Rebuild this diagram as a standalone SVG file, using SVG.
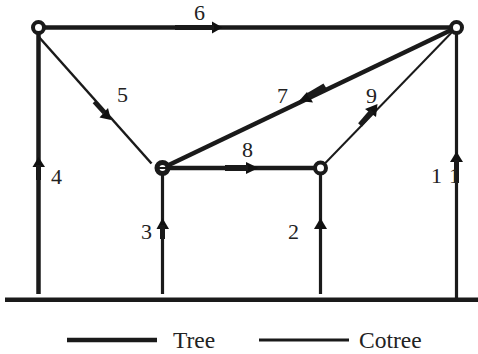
<svg xmlns="http://www.w3.org/2000/svg" width="478" height="354" viewBox="0 0 478 354">
<style>
.tree{stroke:#1a1a1a;stroke-width:4.5;fill:none}
.co{stroke:#1a1a1a;stroke-width:2.5;fill:none}
.thin{stroke:#1a1a1a;stroke-width:2;fill:none}
.mid{stroke:#1a1a1a;stroke-width:3.2;fill:none}
.ah{fill:#111;stroke:none}
.node{fill:#fff;stroke:#1a1a1a;stroke-width:4}
text{font-family:"Liberation Serif","Times New Roman",serif;font-size:22px;fill:#222}
.leg{font-size:23.5px}
</style>
<rect width="478" height="354" fill="#fff"/>
<g id="connectors">
<line class="tree" x1="5" y1="299.7" x2="478" y2="299.7"/>
<line class="tree" x1="38.5" y1="27.5" x2="38.5" y2="294"/>
<line class="mid" x1="162.5" y1="168" x2="162.5" y2="294"/>
<line class="mid" x1="320.5" y1="168" x2="320.5" y2="294"/>
<line class="mid" x1="456.5" y1="27.5" x2="456.5" y2="299"/>
<line class="tree" x1="38.5" y1="27.5" x2="456.5" y2="27.5"/>
<line class="co" x1="38" y1="36" x2="151.5" y2="163.5"/>
<line class="tree" x1="162.5" y1="168" x2="456.5" y2="27.5"/>
<line class="thin" x1="320.5" y1="168" x2="456.5" y2="27.5"/>
<line class="tree" x1="162.5" y1="168" x2="320.5" y2="168"/>
<path class="ah" d="M32.5 167L38.5 157L45 167Z"/>
<path class="ah" d="M156.5 229L162.5 218L169 229Z"/>
<path class="ah" d="M314 229L320.5 218L327 229Z"/>
<path class="ah" d="M450 162L456.5 151.5L463 162Z"/>
<path class="ah" d="M212 21.5L222.5 27.5L212 33.5Z"/>
<path class="ah" d="M246 162L258.5 168L246 174Z"/>
<path class="ah" d="M99.5 117.5L111 120L108 108Z"/>
<path class="ah" d="M313 102.5L299 101L307 92Z"/>
<path class="ah" d="M365 109L377.5 104L376 117Z"/>
<line class="tree" x1="175" y1="27.5" x2="214" y2="27.5" style="stroke-width:5"/>
<line class="tree" x1="225" y1="168" x2="248" y2="168" style="stroke-width:6"/>
<line class="tree" x1="162.5" y1="225" x2="162.5" y2="239" style="stroke-width:5"/>
<line class="tree" x1="38.5" y1="165" x2="38.5" y2="180" style="stroke-width:5"/>
<line class="tree" x1="456.5" y1="160" x2="456.5" y2="183" style="stroke-width:5"/>
<line class="tree" x1="94" y1="102" x2="104" y2="113" style="stroke-width:3.5"/>
<line class="tree" x1="325" y1="86" x2="308" y2="96" style="stroke-width:6"/>
<line class="tree" x1="372" y1="111" x2="360" y2="125" style="stroke-width:5"/>
</g>
<g id="n1"><circle class="node" cx="38.5" cy="27.5" r="5.5"/></g>
<g id="n2"><circle class="node" cx="162.5" cy="168" r="5.5" style="stroke-width:5"/><line x1="158" y1="168" x2="167" y2="168" stroke="#1a1a1a" stroke-width="2"/></g>
<g id="n3"><circle class="node" cx="320.5" cy="168" r="5.5"/></g>
<g id="n4"><circle class="node" cx="456.5" cy="27.5" r="5.5"/></g>
<g id="labels">
<text x="194" y="20">6</text>
<text x="117" y="102">5</text>
<text x="277" y="103">7</text>
<text x="366" y="103">9</text>
<text x="242" y="157">8</text>
<text x="51" y="184">4</text>
<text x="141" y="239">3</text>
<text x="288" y="239">2</text>
<text x="431" y="183">1</text>
<text x="449" y="183">1</text>
</g>
<g id="legend">
<line class="tree" x1="67" y1="340" x2="157" y2="340"/>
<text class="leg" x="173" y="348">Tree</text>
<line class="mid" x1="259" y1="340" x2="349" y2="340"/>
<text class="leg" x="359" y="348">Cotree</text>
</g>
</svg>
